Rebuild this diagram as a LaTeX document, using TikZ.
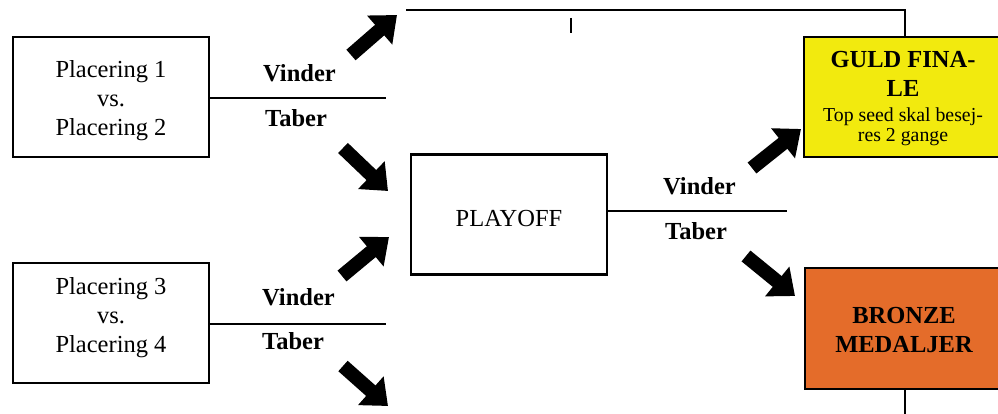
\documentclass[tikz,border=0pt]{standalone}
\usepackage{fontspec}
\setmainfont{Liberation Serif}
\usetikzlibrary{arrows.meta}
\definecolor{guld}{RGB}{242,234,14}
\definecolor{bronze}{RGB}{228,108,42}
\tikzset{
  box/.style={draw=black, line width=2.4pt, minimum width=196pt, minimum height=120pt, inner sep=0pt},
  txt/.style={anchor=base, inner sep=0pt, font=\fontsize{24.5}{29.4}\selectfont},
  btxt/.style={txt, font=\fontsize{24.5}{29.4}\selectfont\bfseries},
  stxt/.style={txt, font=\fontsize{19.8}{23.5}\selectfont},
  conn/.style={line width=2pt},
  lbl/.style={anchor=base west, inner sep=0pt, font=\fontsize{24.5}{29.4}\selectfont\bfseries},
  blockarrow/.style={line width=14pt, -{Triangle[length=23pt,width=37pt]}},
}
\begin{document}
\begin{tikzpicture}[x=1pt,y=-1pt]
\useasboundingbox (0,0) rectangle (998,414);
\clip (0,0) rectangle (998,414);
% boxes
\node[box] (p12) at (111,97) {};
\node[box] (p34) at (111,323) {};
\node[box] (play) at (509,214.5) {};
\node[box, fill=guld, minimum width=198pt] (gold) at (903,97) {};
\node[box, fill=bronze, minimum width=197pt, minimum height=121pt] (bron) at (903.5,328.5) {};
% box texts
\node[txt] (p12a) at (111,78) {Placering 1};
\node[txt] (p12b) at (111,107) {vs.};
\node[txt] (p12c) at (111,136) {Placering 2};
\node[txt] (p34a) at (111,294) {Placering 3};
\node[txt] (p34b) at (111,323) {vs.};
\node[txt] (p34c) at (111,352) {Placering 4};
\node[txt] (playt) at (509,226) {PLAYOFF};
\node[btxt] (golda) at (903,68) {GULD FINA-};
\node[btxt] (goldb) at (903,97) {LE};
\node[stxt] (goldc) at (903,122) {Top seed skal besej-};
\node[stxt] (goldd) at (903,142) {res 2 gange};
\node[btxt] (brona) at (904,323) {BRONZE};
\node[btxt] (bronb) at (904,352) {MEDALJER};
% connector ends
\coordinate (e12) at (386,98);
\coordinate (e34) at (386,324);
\coordinate (eplay) at (787,211);
\coordinate (tl) at (406,10);
\coordinate (bot) at (905,416);
\coordinate (tick1) at (571,18);
\coordinate (tick2) at (571,33);
% lines
\draw[conn] (p12.east |- e12) -- (e12);
\draw[conn] (p34.east |- e34) -- (e34);
\draw[conn] (play.east |- eplay) -- (eplay);
\draw[conn] (tl) -| ([xshift=2pt]gold.north);
\draw[line width=1.2pt] (tick1) -- (tick2);
\draw[conn] ([xshift=1.5pt]bron.south) -- ([xshift=1.5pt]bron.south |- bot);
% labels
\node[lbl] (v1) at (263,82) {Vinder};
\node[lbl] (t1) at (265,127) {Taber};
\node[lbl] (v2) at (262,305) {Vinder};
\node[lbl] (t2) at (262,349) {Taber};
\node[lbl] (v3) at (663,195) {Vinder};
\node[lbl] (t3) at (665,239) {Taber};
% block arrows
\coordinate (a1s) at (351,55); \coordinate (a1e) at (397,15);
\coordinate (a2s) at (343,148); \coordinate (a2e) at (388,191);
\coordinate (a3s) at (342,276); \coordinate (a3e) at (389,237);
\coordinate (a4s) at (343,366); \coordinate (a4e) at (388,406);
\coordinate (a5s) at (752,168); \coordinate (a5e) at (801,129);
\coordinate (a6s) at (746,256); \coordinate (a6e) at (795,296);
\draw[blockarrow] (a1s) -- (a1e);
\draw[blockarrow] (a2s) -- (a2e);
\draw[blockarrow] (a3s) -- (a3e);
\draw[blockarrow] (a4s) -- (a4e);
\draw[blockarrow] (a5s) -- (a5e);
\draw[blockarrow] (a6s) -- (a6e);
\end{tikzpicture}
\end{document}
